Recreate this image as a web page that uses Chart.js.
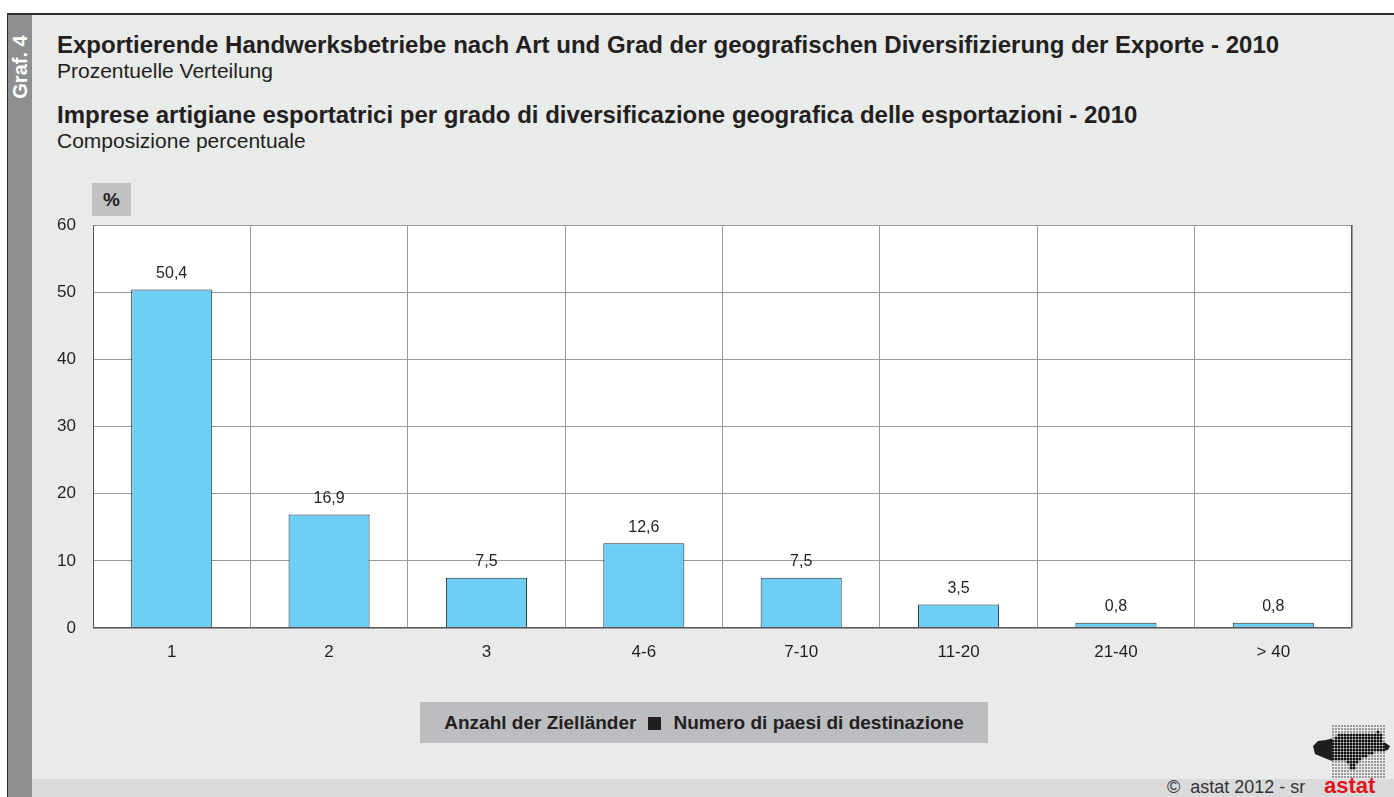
<!DOCTYPE html>
<html><head><meta charset="utf-8">
<script src="https://cdn.jsdelivr.net/npm/chart.js@4/dist/chart.umd.min.js"></script>
<style>
html,body{margin:0;padding:0;background:#fff;}
body{width:1394px;height:797px;position:relative;overflow:hidden;font-family:"Liberation Sans",Arial,sans-serif;color:#231f20;}
#frame{position:absolute;left:7px;top:13px;width:1387px;height:784px;background:#e9eaea;border-top:2px solid #2b2b2b;border-left:1px solid #2b2b2b;box-sizing:border-box;}
#strip{position:absolute;left:8px;top:15px;width:24px;height:782px;background:#8e8f91;}
#graf{position:absolute;left:-20px;top:55px;width:80px;height:24px;color:#fff;font-weight:bold;font-size:20px;transform-origin:center;transform:rotate(-90deg);white-space:nowrap;text-align:center;line-height:24px;}
.t{position:absolute;left:57px;white-space:nowrap;}
.b{font-weight:bold;font-size:24px;line-height:24px;}
.s{font-size:21px;line-height:21px;}
#pct{position:absolute;left:92px;top:183px;width:39px;height:33px;background:#c0c1c3;font-weight:bold;font-size:19px;text-align:center;line-height:33px;}
#legend{position:absolute;left:420px;top:702px;width:568px;height:41px;background:#bcbdc0;font-weight:bold;font-size:19px;text-align:center;line-height:41px;}
#legend span.sq{display:inline-block;width:13px;height:13px;background:#231f20;margin:0 12px;vertical-align:-1px;}
#foot{position:absolute;left:32px;top:779px;width:1362px;height:18px;background:#d9dadb;}
#copy{position:absolute;left:1167px;top:777px;font-size:18px;color:#333;line-height:20px;}
#astat{position:absolute;left:1324px;top:775px;font-size:22px;font-weight:bold;color:#e3131b;line-height:22px;}
#logo{position:absolute;left:1310px;top:724px;}
#c{position:absolute;left:0;top:0;}
</style></head>
<body>
<div id="frame"></div>
<div id="strip"></div>
<div id="graf">Graf. 4</div>
<div class="t b" style="top:33px">Exportierende Handwerksbetriebe nach Art und Grad der geografischen Diversifizierung der Exporte - 2010</div>
<div class="t s" style="top:60px">Prozentuelle Verteilung</div>
<div class="t b" style="top:103px">Imprese artigiane esportatrici per grado di diversificazione geografica delle esportazioni - 2010</div>
<div class="t s" style="top:130px">Composizione percentuale</div>
<div id="pct">%</div>
<div id="legend">Anzahl der Zielländer<span class="sq"></span>Numero di paesi di destinazione</div>
<div id="foot"></div>
<div id="copy">©&nbsp; astat 2012 - sr</div>
<div id="astat">astat</div>
<canvas id="logo" width="84" height="54"></canvas>
<canvas id="c" width="1394" height="797"></canvas>
<script>
const categories = ["1","2","3","4-6","7-10","11-20","21-40","> 40"];
const values = [50.4, 16.9, 7.5, 12.6, 7.5, 3.5, 0.8, 0.8];
const yTicks = [0,10,20,30,40,50,60];

// logo (decorative dot matrix)
(function(){
  const g=document.getElementById('logo').getContext('2d');
  function blob(){
    g.beginPath();
    g.moveTo(3,22);g.lineTo(8,17);g.lineTo(16,16);g.lineTo(24,14);g.lineTo(30,10);g.lineTo(44,11);g.lineTo(56,9);g.lineTo(68,8);g.lineTo(73,10);
    g.lineTo(74,18);g.lineTo(80,22);g.lineTo(78,26);g.lineTo(70,27);g.lineTo(62,30);g.lineTo(54,34);g.lineTo(48,36);g.lineTo(45,44);
    g.lineTo(40,45);g.lineTo(37,38);g.lineTo(30,37);g.lineTo(22,37);g.lineTo(12,33);g.lineTo(5,30);g.closePath();
  }
  const gx0=22, gx1=74;
  // solid parts outside the dot grid
  g.save();blob();g.clip();g.fillStyle='#1e1e1e';
  g.fillRect(0,0,gx0,54);g.fillRect(gx1+1,0,20,54);g.restore();
  // dots
  for(let x=0;x<18;x++)for(let y=0;y<18;y++){
    const px=gx0+1+x*3, py=2+y*3;
    const inside=g.isPointInPath((blob(),g.getTransform())&&px,py);
    blob();
    const ins=g.isPointInPath(px,py);
    g.fillStyle=ins?'#111':'#333';
    g.beginPath();g.arc(px,py,ins?1.5:0.8,0,Math.PI*2);g.fill();
  }
})();

const bgPlugin={id:'bg',beforeDraw(ch){const a=ch.chartArea,c=ch.ctx;c.save();c.fillStyle='#fff';c.fillRect(a.left,a.top,a.right-a.left,a.bottom-a.top);c.restore();}};
const labelPlugin={id:'lbl',afterDatasetsDraw(ch){
  const c=ch.ctx,meta=ch.getDatasetMeta(0);
  c.save();c.font='16px "Liberation Sans", Arial, sans-serif';c.fillStyle='#231f20';c.textAlign='center';c.textBaseline='bottom';
  meta.data.forEach((b,i)=>{c.fillText(values[i].toFixed(1).replace('.',','),b.x,b.y-8);});
  c.restore();
}};
const borderPlugin={id:'bd',afterDraw(ch){const a=ch.chartArea,c=ch.ctx;c.save();c.strokeStyle='#555';c.lineWidth=1;
  c.beginPath();c.moveTo(a.left+0.5,a.top);c.lineTo(a.left+0.5,a.bottom-0.5);c.lineTo(a.right-0.5,a.bottom-0.5);c.lineTo(a.right-0.5,a.top);c.stroke();c.restore();}};

new Chart(document.getElementById('c'),{
  type:'bar',
  data:{labels:categories,datasets:[{data:values,backgroundColor:'#6dcff6',borderColor:'#2b2b2b',borderWidth:1,barPercentage:0.515,categoryPercentage:1}]},
  options:{
    responsive:false,animation:false,devicePixelRatio:1,
    layout:{padding:{top:225,right:42,left:0,bottom:119}},
    plugins:{legend:{display:false},tooltip:{enabled:false}},
    scales:{
      x:{offset:true,grid:{offset:true,color:'#9a9a9a',drawTicks:false,lineWidth:1},border:{display:false},
         ticks:{color:'#231f20',font:{size:17,family:'"Liberation Sans", Arial'},padding:14},
         afterFit(s){s.height=50;}},
      y:{min:0,max:60,grid:{color:'#9a9a9a',drawTicks:false},border:{display:false},
         afterBuildTicks(s){s.ticks=yTicks.map(v=>({value:v}));},
         ticks:{color:'#231f20',font:{size:17,family:'"Liberation Sans", Arial'},padding:17},
         afterFit(s){s.width=93;}}
    }
  },
  plugins:[bgPlugin,labelPlugin,borderPlugin]
});
</script>
</body></html>
